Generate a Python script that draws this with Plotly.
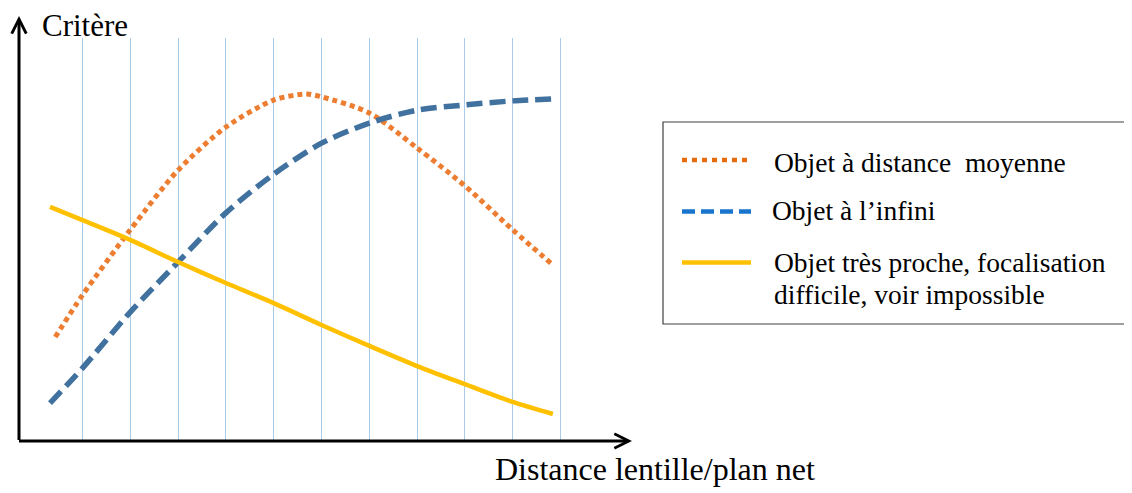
import plotly.graph_objects as go

# ---------------- data ----------------
x_orange = [0.43, 1, 2, 3, 4, 5, 5.69, 6, 7, 8, 9, 10, 10.84]
y_orange = [2.58, 3.62, 5.24, 6.72, 7.79, 8.46, 8.61, 8.54, 8.14, 7.27, 6.33, 5.24, 4.37]

x_blue = [0.32, 1, 2, 3, 4, 5, 6, 7, 8, 9, 10, 10.95]
y_blue = [0.94, 1.81, 3.20, 4.44, 5.66, 6.62, 7.39, 7.89, 8.21, 8.34, 8.44, 8.49]

x_yellow = [0.32, 1, 2, 3, 4, 5, 6, 7, 8, 9, 10, 10.84]
y_yellow = [5.81, 5.48, 4.99, 4.44, 3.92, 3.42, 2.88, 2.36, 1.86, 1.41, 0.97, 0.67]

grid_x = [1, 2, 3, 4, 5, 6, 7, 8, 9, 10, 11]

series_names = [
    "Objet à distance  moyenne",
    "Objet à l’infini",
    "Objet très proche, focalisation<br>difficile, voir impossible",
]
curve_colors = ["#ED7D31", "#41729F", "#FFC000"]
legend_colors = ["#E46C0A", "#1874CD", "#FFC000"]
y_title = "Critère"
x_title = "Distance lentille/plan net"

# ---------------- layout geometry ----------------
OFF = 8  # page body margin
W, H = 1132 - OFF, 493 - OFF
L, T = 19 - OFF, 38 - OFF
R, B = 502, 52
PW, PH = W - L - R, H - T - B
FONT = "Liberation Serif, Times New Roman, serif"


def px(xp):
    # page pixel x -> paper
    return (xp - OFF - L) / PW


def py(yp):
    # page pixel y -> paper
    return (H - B - (yp - OFF)) / PH


fig = go.Figure()
fig.add_trace(go.Scatter(x=x_orange, y=y_orange, mode="lines", name=series_names[0],
                         line=dict(color=curve_colors[0], width=5, dash="5px,4px",
                                   shape="spline", smoothing=0.8), showlegend=False))
fig.add_trace(go.Scatter(x=x_blue, y=y_blue, mode="lines", name=series_names[1],
                         line=dict(color=curve_colors[1], width=5.5, dash="16px,7px",
                                   shape="spline", smoothing=0.8), showlegend=False))
fig.add_trace(go.Scatter(x=x_yellow, y=y_yellow, mode="lines", name=series_names[2],
                         line=dict(color=curve_colors[2], width=4.5,
                                   shape="spline", smoothing=0.8), showlegend=False))

x_min = -(82.5 - 19) / 47.8 + 1
x_max = x_min + PW / 47.8

fig.update_layout(
    width=W, height=H, autosize=False,
    margin=dict(l=L, r=R, t=T, b=B, pad=0),
    paper_bgcolor="white", plot_bgcolor="white",
    font=dict(family=FONT, color="black"),
    xaxis=dict(range=[x_min, x_max], tickvals=grid_x, showticklabels=False, ticks="",
               showgrid=True, gridcolor="#A9CBEA", gridwidth=1, zeroline=False,
               showline=False, fixedrange=True),
    yaxis=dict(range=[0, 10], showgrid=False, showticklabels=False, ticks="",
               zeroline=False, showline=False, fixedrange=True),
    showlegend=False,
)

annotations = []
# axis arrows
annotations.append(dict(xref="paper", yref="paper", x=px(19), y=py(16), ax=0, ay=441.5 - 16,
                        axref="pixel", ayref="pixel", text="", showarrow=True,
                        arrowhead=5, arrowwidth=3, arrowsize=0.95, arrowcolor="black", standoff=0))
annotations.append(dict(xref="paper", yref="paper", x=px(632), y=py(441), ax=-(632 - 17.5), ay=0,
                        axref="pixel", ayref="pixel", text="", showarrow=True,
                        arrowhead=5, arrowwidth=3, arrowsize=0.95, arrowcolor="black", standoff=0))
# axis titles
annotations.append(dict(xref="paper", yref="paper", x=px(85), y=py(25), text=y_title,
                        showarrow=False, xanchor="center", yanchor="middle",
                        font=dict(size=31, family=FONT, color="black")))
annotations.append(dict(xref="paper", yref="paper", x=px(655), y=py(469), text=x_title,
                        showarrow=False, xanchor="center", yanchor="middle",
                        font=dict(size=32, family=FONT, color="black")))

# manual legend
shapes = [dict(type="rect", xref="paper", yref="paper", x0=px(663), x1=px(1130),
               y0=py(324), y1=py(122), line=dict(color="#404040", width=1.2),
               fillcolor="rgba(0,0,0,0)", layer="above")]
leg_line_y = [160, 211.5, 262.5]
leg_dash = ["5px,5px", "13px,6px", "solid"]
leg_text_y = [162, 210, 262.5]
leg_text_x = [772, 770, 772]
LINE_GAP = 31.5
for i in range(3):
    shapes.append(dict(type="line", xref="paper", yref="paper", x0=px(682), x1=px(751),
                       y0=py(leg_line_y[i]), y1=py(leg_line_y[i]),
                       line=dict(color=legend_colors[i], width=4.5, dash=leg_dash[i])))
    for k, part in enumerate(series_names[i].split("<br>")):
        annotations.append(dict(xref="paper", yref="paper", x=px(leg_text_x[i]),
                                y=py(leg_text_y[i] + k * LINE_GAP),
                                text=part, showarrow=False, xanchor="left",
                                yanchor="middle", align="left",
                                font=dict(size=27.5, family=FONT, color="black")))

fig.update_layout(annotations=annotations, shapes=shapes)
fig.write_html("out.html")
